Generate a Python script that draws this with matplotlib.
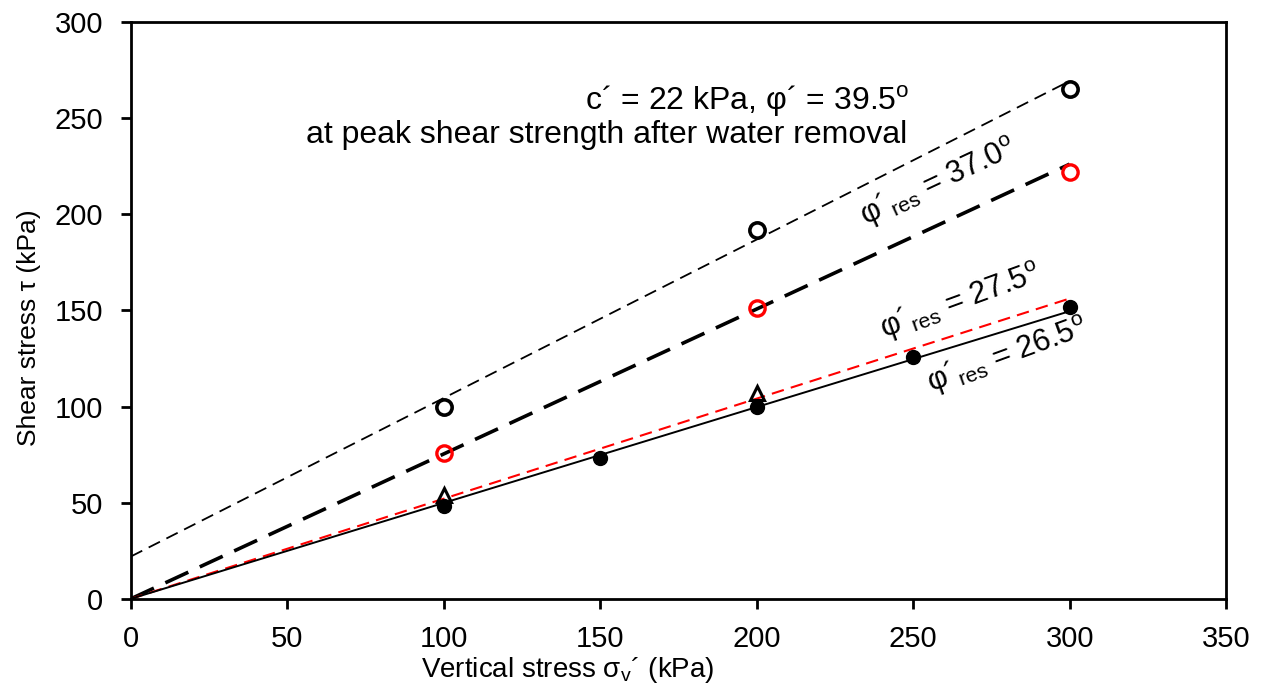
import numpy as np
import matplotlib.pyplot as plt

plt.rcParams['font.family'] = ['Liberation Sans', 'DejaVu Sans']
plt.rcParams['mathtext.fontset'] = 'custom'
plt.rcParams['mathtext.rm'] = 'Liberation Sans'
plt.rcParams['mathtext.it'] = 'Liberation Sans:italic'

# peak shear strength after water removal (open black circles)
peak_x = [100, 200, 300]
peak_y = [100, 192, 265]
# residual, red open circles
res_red_x = [100, 200, 300]
res_red_y = [76, 151, 222]
# triangles
tri_x = [100, 200]
tri_y = [54, 107]
# filled black circles
fill_x = [100, 150, 200, 250, 300]
fill_y = [48, 73, 100, 126, 152]

# strength envelopes: (cohesion kPa, friction angle deg)
env_peak = (22, 39.5)
env_370 = (0, 37.0)
env_275 = (0, 27.5)
env_265 = (0, 26.5)

xl = np.array([0, 300])


def envelope(c, phi):
    return c + xl * np.tan(np.radians(phi))


fig, ax = plt.subplots(figsize=(12.64, 6.89), dpi=100)
fig.subplots_adjust(left=0.1036, right=0.970, bottom=0.131, top=0.968)

ax.plot(xl, envelope(*env_peak), color='black', lw=1.3, dashes=(7, 4))
ax.plot(xl, envelope(*env_370), color='black', lw=2.6, dashes=(7, 3.5))
ax.plot(xl, envelope(*env_275), color='red', lw=1.5, dashes=(6, 3.5))
ax.plot(xl, envelope(*env_265), color='black', lw=1.4)

ax.plot(peak_x, peak_y, 'o', ms=11, mfc='none', mec='black', mew=2.6)
ax.plot(res_red_x, res_red_y, 'o', ms=11, mfc='none', mec='red', mew=2.4)
ax.plot(tri_x, tri_y, '^', ms=10, mfc='none', mec='black', mew=2.2)
ax.plot(fill_x, fill_y, 'o', ms=10, color='black')

fs = 23
ax.text(197, 259, r'c´ = 22 kPa, φ´ = 39.5$^{\mathrm{o}}$', ha='center', va='center', fontsize=fs)
ax.text(152, 241, 'at peak shear strength after water removal', ha='center', va='center', fontsize=fs)
ax.text(258, 217, r'φ´$_{\mathrm{res}}$ = 37.0$^{\mathrm{o}}$', ha='center', va='center',
        fontsize=22, rotation=25, rotation_mode='anchor')
ax.text(265, 155, r'φ´$_{\mathrm{res}}$ = 27.5$^{\mathrm{o}}$', ha='center', va='center',
        fontsize=22, rotation=20, rotation_mode='anchor')
ax.text(280, 127, r'φ´$_{\mathrm{res}}$ = 26.5$^{\mathrm{o}}$', ha='center', va='center',
        fontsize=22, rotation=20, rotation_mode='anchor')

ax.set_xlim(0, 350)
ax.set_ylim(0, 300)
ax.set_xticks(np.arange(0, 351, 50))
ax.set_yticks(np.arange(0, 301, 50))
ax.tick_params(direction='out', length=7, width=2, labelsize=21)
ax.tick_params(axis='y', pad=13)
ax.tick_params(axis='x', pad=12)
for sp in ax.spines.values():
    sp.set_linewidth(2)

ax.set_xlabel(r'Vertical stress σ$_{\mathrm{v}}$´ (kPa)', fontsize=20)
ax.set_ylabel('Shear stress τ (kPa)', fontsize=19)
ax.xaxis.set_label_coords(0.399, -0.097)
ax.yaxis.set_label_coords(-0.082, 0.47)

plt.savefig('out.png', dpi=100)
